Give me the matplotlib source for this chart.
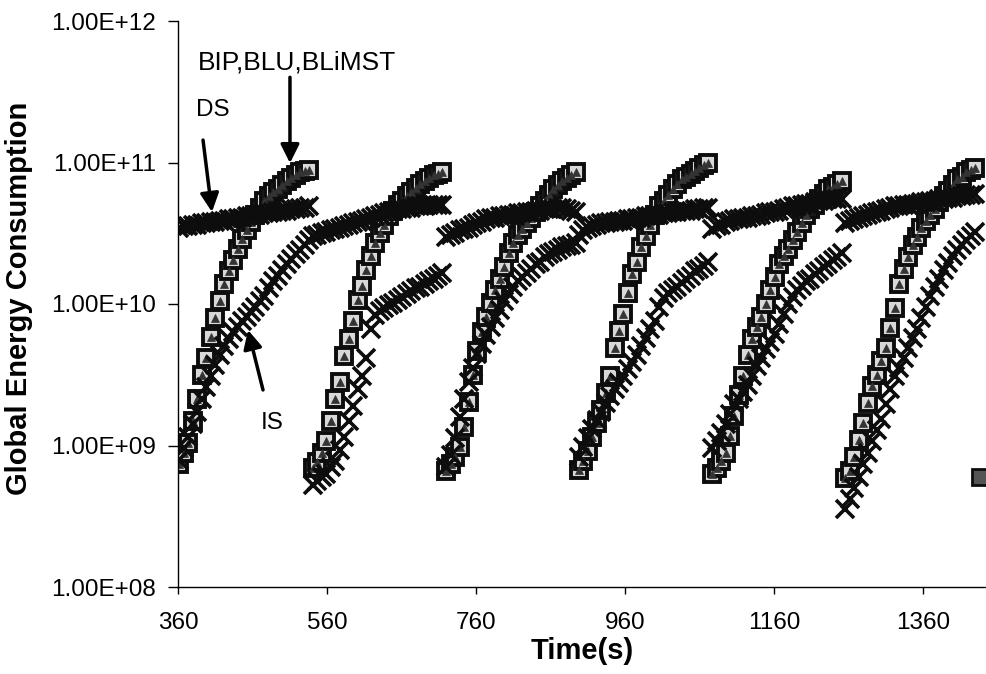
import matplotlib
matplotlib.use("Agg")
import matplotlib.pyplot as plt
from matplotlib.ticker import FixedLocator, FuncFormatter, NullLocator
import numpy as np

# время начала каждого цикла (с) и отсчёты внутри цикла (с)
episode_start = [362, 541, 720, 898, 1077, 1256]
offsets = [0, 6, 12, 18, 24, 30, 36, 42, 48, 54, 60, 66, 72, 78, 84,
           90, 96, 102, 108, 114, 120, 126, 132, 138, 144, 150, 156, 162, 168, 174]

# log10 энергии
ds_log10 = [
    [10.54, 10.55, 10.55, 10.56, 10.56, 10.57, 10.57, 10.58, 10.58, 10.59, 10.59, 10.60, 10.60, 10.61, 10.61,
     10.62, 10.62, 10.63, 10.63, 10.64, 10.64, 10.65, 10.65, 10.66, 10.66, 10.67, 10.67, 10.68, 10.68, 10.69],
    [10.48, 10.49, 10.50, 10.51, 10.52, 10.53, 10.54, 10.55, 10.56, 10.57, 10.58, 10.59, 10.60, 10.61, 10.62,
     10.63, 10.64, 10.65, 10.66, 10.67, 10.67, 10.68, 10.68, 10.69, 10.69, 10.69, 10.70, 10.70, 10.70, 10.70],
    [10.47, 10.49, 10.50, 10.52, 10.53, 10.54, 10.56, 10.57, 10.58, 10.60, 10.61, 10.61, 10.62, 10.62, 10.63,
     10.63, 10.64, 10.64, 10.65, 10.65, 10.66, 10.66, 10.67, 10.67, 10.67, 10.68, 10.68, 10.67, 10.66, 10.65],
    [10.49, 10.52, 10.54, 10.55, 10.56, 10.57, 10.57, 10.58, 10.58, 10.59, 10.59, 10.60, 10.60, 10.61, 10.61,
     10.62, 10.62, 10.63, 10.63, 10.64, 10.64, 10.65, 10.65, 10.66, 10.66, 10.66, 10.67, 10.67, 10.68, 10.68],
    [10.53, 10.55, 10.56, 10.58, 10.59, 10.60, 10.60, 10.61, 10.61, 10.62, 10.62, 10.63, 10.64, 10.65, 10.65,
     10.66, 10.67, 10.68, 10.69, 10.69, 10.70, 10.71, 10.71, 10.72, 10.73, 10.73, 10.74, 10.74, 10.74, 10.74],
    [10.57, 10.59, 10.60, 10.61, 10.62, 10.63, 10.64, 10.65, 10.66, 10.67, 10.68, 10.69, 10.69, 10.70, 10.70,
     10.71, 10.71, 10.72, 10.72, 10.73, 10.73, 10.74, 10.74, 10.75, 10.75, 10.76, 10.76, 10.77, 10.77, 10.78],
]
is_log10 = [
    [8.90, 8.98, 9.06, 9.15, 9.24, 9.33, 9.41, 9.49, 9.57, 9.64, 9.70, 9.75, 9.80, 9.84, 9.88,
     9.91, 9.94, 9.98, 10.02, 10.06, 10.11, 10.16, 10.20, 10.24, 10.28, 10.32, 10.35, 10.38, 10.42, 10.45],
    [8.72, 8.75, 8.78, 8.80, 8.85, 8.89, 8.97, 9.06, 9.17, 9.28, 9.40, 9.49, 9.62, 9.82, 9.92,
     9.95, 9.97, 9.99, 10.01, 10.03, 10.05, 10.07, 10.09, 10.11, 10.12, 10.14, 10.16, 10.18, 10.20, 10.22],
    [8.85, 8.93, 9.05, 9.20, 9.33, 9.45, 9.55, 9.65, 9.72, 9.78, 9.84, 9.90, 9.96, 10.02, 10.07,
     10.12, 10.16, 10.19, 10.22, 10.25, 10.28, 10.30, 10.33, 10.35, 10.37, 10.38, 10.40, 10.41, 10.42, 10.43],
    [8.92, 8.99, 9.05, 9.12, 9.18, 9.24, 9.30, 9.35, 9.40, 9.44, 9.49, 9.54, 9.59, 9.64, 9.70,
     9.76, 9.82, 9.88, 9.98, 10.04, 10.08, 10.10, 10.12, 10.15, 10.18, 10.20, 10.23, 10.25, 10.27, 10.30],
    [8.98, 9.03, 9.09, 9.15, 9.22, 9.29, 9.33, 9.38, 9.43, 9.49, 9.56, 9.62, 9.68, 9.73, 9.79,
     9.86, 9.93, 10.00, 10.05, 10.10, 10.13, 10.16, 10.18, 10.21, 10.23, 10.26, 10.28, 10.31, 10.33, 10.36],
    [8.55, 8.62, 8.70, 8.78, 8.87, 8.95, 9.03, 9.11, 9.19, 9.29, 9.40, 9.49, 9.55, 9.62, 9.69,
     9.76, 9.82, 9.90, 9.98, 10.06, 10.12, 10.18, 10.24, 10.29, 10.34, 10.38, 10.42, 10.45, 10.48, 10.51],
]
bip_log10 = [
    [8.87, 8.95, 9.02, 9.17, 9.33, 9.50, 9.62, 9.77, 9.90, 10.02, 10.14, 10.23, 10.31, 10.39, 10.46,
     10.52, 10.58, 10.63, 10.68, 10.73, 10.76, 10.79, 10.81, 10.84, 10.87, 10.89, 10.91, 10.93, 10.94, 10.95],
    [8.84, 8.88, 8.95, 9.03, 9.17, 9.33, 9.45, 9.63, 9.75, 9.88, 10.03, 10.13, 10.24, 10.34, 10.43,
     10.50, 10.56, 10.62, 10.66, 10.70, 10.73, 10.76, 10.79, 10.82, 10.85, 10.87, 10.89, 10.91, 10.92, 10.93],
    [8.82, 8.87, 8.92, 8.99, 9.13, 9.31, 9.50, 9.67, 9.80, 9.91, 10.01, 10.10, 10.18, 10.26, 10.36,
     10.43, 10.49, 10.53, 10.57, 10.61, 10.65, 10.69, 10.73, 10.77, 10.81, 10.84, 10.87, 10.89, 10.91, 10.93],
    [8.83, 8.89, 8.96, 9.06, 9.16, 9.25, 9.37, 9.49, 9.69, 9.81, 9.93, 10.08, 10.21, 10.30, 10.40,
     10.48, 10.56, 10.63, 10.69, 10.73, 10.77, 10.81, 10.85, 10.88, 10.90, 10.92, 10.94, 10.96, 10.98, 11.00],
    [8.80, 8.84, 8.89, 8.95, 9.07, 9.21, 9.36, 9.49, 9.64, 9.75, 9.84, 9.91, 10.00, 10.10, 10.19,
     10.28, 10.34, 10.39, 10.45, 10.51, 10.57, 10.63, 10.67, 10.70, 10.74, 10.78, 10.81, 10.83, 10.85, 10.87],
    [8.77, 8.82, 8.92, 9.04, 9.16, 9.30, 9.42, 9.50, 9.60, 9.69, 9.83, 9.97, 10.14, 10.25, 10.33,
     10.42, 10.47, 10.54, 10.59, 10.63, 10.67, 10.72, 10.76, 10.80, 10.84, 10.88, 10.90, 10.93, 10.95, 10.96],
]
# одиночная точка начала следующего цикла
extra_t = [1436]
extra_log10 = [8.78]

xticks = [360, 560, 760, 960, 1160, 1360]
yticks = [1e8, 1e9, 1e10, 1e11, 1e12]

plt.rcParams['font.family'] = ['Liberation Sans', 'DejaVu Sans']

fig = plt.figure(figsize=(9.86, 6.74), dpi=100)
ax = fig.add_axes([178 / 986, 1 - 587 / 674, 808 / 986, 566 / 674])

ink = '#0d0d0d'
for k, t0 in enumerate(episode_start):
    t = t0 + np.array(offsets)
    bip = 10 ** np.array(bip_log10[k])
    ds = 10 ** np.array(ds_log10[k])
    is_ = 10 ** np.array(is_log10[k])
    # BIP, BLU, BLiMST почти совпадают
    ax.plot(t, bip, ls='none', marker='s', ms=12, mfc='#d8d8d8', mec=ink, mew=2.8)
    ax.plot(t, bip, ls='none', marker='^', ms=5.5, mfc='#333333', mec='#333333', mew=0.5)
    ax.plot(t, ds, ls='none', marker='x', ms=13, mew=2.6, color=ink)
    ax.plot(t, is_, ls='none', marker='x', ms=13, mew=2.6, color=ink)

ax.plot(extra_t, 10 ** np.array(extra_log10), ls='none', marker='s', ms=12,
        mfc='#555555', mec=ink, mew=2)

ax.set_yscale('log')
ax.set_xlim(360, 1444.6)
ax.set_ylim(1e8, 1e12)
ax.xaxis.set_major_locator(FixedLocator(xticks))
ax.yaxis.set_major_locator(FixedLocator(yticks))
ax.yaxis.set_minor_locator(NullLocator())
ax.yaxis.set_major_formatter(FuncFormatter(lambda v, p: "{:.2E}".format(v)))
ax.tick_params(axis='y', which='major', direction='out', length=7, width=1, pad=9, labelsize=17.5)
ax.tick_params(axis='x', which='major', direction='out', length=5, width=1, pad=13, labelsize=17.5)

for s in ['top', 'right']:
    ax.spines[s].set_visible(False)
for s in ['left', 'bottom']:
    ax.spines[s].set_linewidth(1.0)

ax.set_xlabel("Time(s)", fontsize=21, fontweight='bold')
ax.set_ylabel("Global Energy Consumption", fontsize=21, fontweight='bold')
ax.xaxis.set_label_coords(0.5, -0.088)
ax.yaxis.set_label_coords(-0.18, 0.51)

arrow = dict(arrowstyle='-|>', lw=2.5, color='black', mutation_scale=28, shrinkA=0, shrinkB=0)
ax.annotate("DS", xy=(405.6, 4.47e10), xytext=(407, 2.35e11), fontsize=17.5,
            ha='center', va='center', annotation_clip=False)
ax.annotate("", xy=(405.6, 4.47e10), xytext=(393.6, 1.44e11), arrowprops=arrow)
ax.annotate("BIP,BLU,BLiMST", xy=(510, 9.9e10), xytext=(519.7, 5.05e11), fontsize=19,
            ha='center', va='center', annotation_clip=False)
ax.annotate("", xy=(510.3, 9.9e10), xytext=(510.3, 4.0e11), arrowprops=arrow)
ax.annotate("IS", xy=(454, 6.55e9), xytext=(486.2, 1.44e9), fontsize=17.5,
            ha='center', va='center')
ax.annotate("", xy=(454, 6.55e9), xytext=(474.1, 2.47e9), arrowprops=arrow)

fig.savefig('out.png', dpi=100)
